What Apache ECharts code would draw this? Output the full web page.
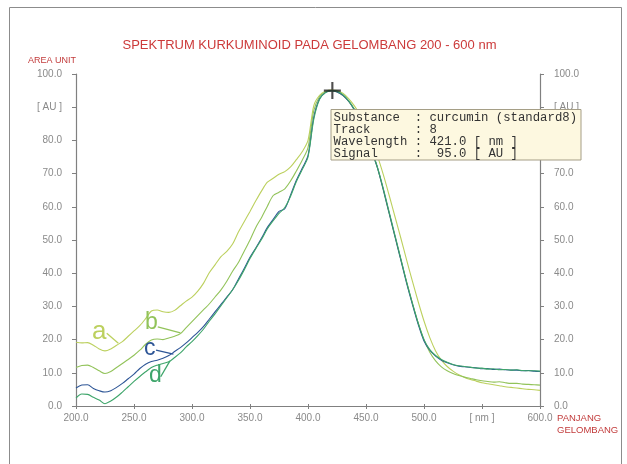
<!DOCTYPE html>
<html>
<head>
<meta charset="utf-8">
<script src="https://cdn.jsdelivr.net/npm/echarts@6/dist/echarts.min.js"></script>
<style>html,body{margin:0;padding:0;background:#fff;}#c{width:627px;height:464px;}</style>
</head>
<body>
<div id="c"></div>
<script>
// Wavelength grid (nm)
var wavelengths = [200,205,210,215,220,225,230,235,240,245,250,255,260,265,270,275,280,285,290,295,300,305,310,315,320,325,330,335,340,345,350,355,360,365,370,375,380,385,390,395,400,405,410,415,420,425,430,435,440,445,450,455,460,465,470,475,480,485,490,495,500,505,510,515,520,525,530,535,540,545,550,555,560,565,570,575,580,585,590,595,600];

var seriesA = [19.2,19.0,19.1,18.3,17.2,16.6,17.2,18.3,19.4,21.0,22.6,24.2,26.3,28.6,28.9,28.4,28.2,28.8,30.2,31.6,32.8,34.6,37.0,40.2,42.6,45.0,46.6,48.8,52.4,55.5,58.6,61.8,64.8,67.4,68.6,69.8,70.6,72.0,74.2,76.6,80.0,90.5,93.6,94.8,95.2,95.0,94.2,92.6,90.4,87.6,84.2,80.0,75.2,69.6,63.4,57.0,50.6,44.0,37.6,31.4,25.6,20.6,16.6,13.8,11.9,10.5,9.4,8.6,8.0,7.5,7.0,6.7,6.4,6.1,5.8,5.6,5.4,5.2,5.0,4.9,4.7];

var seriesB = [11.6,12.2,12.3,11.6,10.6,9.8,10.4,11.6,12.8,14.0,15.3,16.8,18.6,19.9,20.2,20.0,20.5,21.0,21.8,23.6,25.4,27.2,29.0,30.8,32.9,35.0,37.6,40.6,43.2,46.6,50.0,53.8,56.8,60.2,63.4,64.4,65.4,67.8,70.8,74.0,77.8,89.0,93.2,94.6,95.0,94.6,93.6,91.8,89.2,85.8,81.6,76.8,71.6,65.0,58.0,51.0,44.2,37.4,31.0,25.0,20.0,16.2,13.6,11.8,10.6,9.8,9.2,8.7,8.3,7.9,7.6,7.4,7.2,7.3,7.0,6.8,6.8,6.6,6.5,6.4,6.3];

var seriesC = [5.4,6.3,6.4,5.3,4.6,4.2,4.6,5.6,6.8,8.2,9.6,11.3,12.6,13.4,13.8,14.4,15.2,16.4,17.6,19.0,20.6,22.2,24.0,26.2,28.4,30.6,32.8,35.0,38.2,41.4,44.8,47.6,50.6,53.8,56.2,58.6,59.4,63.6,68.0,71.6,75.4,87.0,92.6,94.4,95.0,94.6,93.6,91.8,89.2,85.8,81.4,76.6,71.6,65.0,58.0,51.0,44.0,37.0,30.6,24.6,19.6,16.8,15.0,13.8,13.0,12.4,12.0,11.8,11.6,11.5,11.2,11.3,11.0,11.1,10.9,10.8,10.8,10.6,10.7,10.5,10.4];

var seriesD = [2.4,3.6,3.5,2.6,1.8,0.7,1.5,2.7,4.2,5.8,7.4,8.9,10.3,11.6,12.3,12.8,13.3,14.6,16.0,17.8,19.4,21.2,23.2,25.6,27.8,30.2,32.6,35.0,37.8,41.0,44.4,47.4,50.2,53.4,55.8,58.0,59.8,63.2,67.6,71.2,75.0,86.4,92.4,94.4,95.0,94.8,93.8,92.0,89.4,86.0,81.8,77.0,71.8,65.4,58.4,51.4,44.4,37.4,31.0,25.0,20.0,17.0,15.2,14.0,13.2,12.5,12.1,11.9,11.7,11.4,11.4,11.1,11.2,10.9,11.0,10.8,10.9,10.7,10.6,10.6,10.5];

// Curve labels (letter, label position, leader start, leader end) in data units
var curveNames = ['a','b','c','d'];
var labelPos = [[220,22.2],[265,25.0],[263.5,17.4],[268.5,9.0]];
var leaderStart = [[226.5,21.9],[270.5,23.8],[269,16.8],[273,8.8]];
var leaderEnd = [[236.5,18.9],[290,22.0],[284,15.6],[281,13.6]];
var labelSizes = [26,23,23,23];

// Marked peak
var peakPoint = [421, 95];

var colors = ['#bcd05e','#92c35a','#2d5596','#3ea56a'];
var allSeries = [seriesA, seriesB, seriesC, seriesD];

function zip(xs, ys){ return xs.map(function(x,i){ return [x, ys[i]]; }); }

var chart = echarts.init(document.getElementById('c'), null, {renderer:'canvas'});
var font = '"Liberation Sans", Arial, sans-serif';

var series = allSeries.map(function(s, i){
  return {
    type:'line', data: zip(wavelengths, s), showSymbol:false, smooth:0.3,
    lineStyle:{color:colors[i], width:1.1}, itemStyle:{color:colors[i]},
    z: 3 + i, silent:true,
    markPoint:{
      symbol:'circle', symbolSize:0, silent:true,
      data:[{coord:labelPos[i], value:curveNames[i]}],
      label:{show:true, position:'inside', formatter:curveNames[i], color:colors[i], fontSize:labelSizes[i], fontFamily:font}
    },
    markLine:{
      symbol:['none','none'], silent:true,
      lineStyle:{color:colors[i], width:1.3, type:'solid'},
      label:{show:false},
      data:[[{coord:leaderStart[i]},{coord:leaderEnd[i]}]]
    }
  };
});
series.push({
  type:'scatter', data:[peakPoint], z:20, silent:true,
  symbol:'path://M0,7L16,7L16,9L0,9Z M7,0L9,0L9,16L7,16Z', symbolSize:17,
  itemStyle:{color:'#222'}
});

var axisCol = '#808080';
var labelCol = '#8a8a8a';

function yFmt(v){ return v === 90 ? '[ AU ]' : v.toFixed(1); }
function xFmt(v){ return v === 550 ? '[ nm ]' : v.toFixed(1); }

chart.setOption({
  animation:false,
  backgroundColor:'#ffffff',
  grid:{left:76, right:87, top:74, bottom:58},
  xAxis:[{
    type:'value', min:200, max:600, interval:50, position:'bottom',
    axisLine:{show:true, lineStyle:{color:axisCol, width:1.2}},
    axisTick:{show:true, length:3, lineStyle:{color:axisCol}},
    axisLabel:{formatter:xFmt, color:labelCol, fontSize:10, fontFamily:font, margin:7},
    splitLine:{show:false}
  },{
    type:'value', min:200, max:600, interval:50, position:'top',
    axisLine:{show:true, lineStyle:{color:axisCol, width:1.2}},
    axisTick:{show:true, length:2, lineStyle:{color:axisCol}},
    axisLabel:{show:false}, splitLine:{show:false}
  }],
  yAxis:[{
    type:'value', min:0, max:100, interval:10, position:'left',
    axisLine:{show:true, lineStyle:{color:axisCol, width:1.2}},
    axisTick:{show:true, length:4, lineStyle:{color:axisCol}},
    axisLabel:{formatter:yFmt, color:labelCol, fontSize:10, fontFamily:font, margin:14},
    splitLine:{show:false}
  },{
    type:'value', min:0, max:100, interval:10, position:'right',
    axisLine:{show:true, lineStyle:{color:axisCol, width:1.2}},
    axisTick:{show:true, length:4, lineStyle:{color:axisCol}},
    axisLabel:{formatter:yFmt, color:labelCol, fontSize:10, fontFamily:font, margin:14},
    splitLine:{show:false}
  }],
  series: series,
  graphic:[
    {type:'polyline', silent:true, shape:{points:[[9.5,470],[9.5,7.5],[621.5,7.5],[621.5,470]]}, style:{stroke:'#8c8c8c', lineWidth:1, fill:null}, z:1},
    {type:'text', silent:true, style:{text:'SPEKTRUM KURKUMINOID PADA GELOMBANG 200 - 600 nm', x:309.5, y:45, align:'center', verticalAlign:'middle', fill:'#cc3a3a', font:'13px "Liberation Sans", Arial, sans-serif'}},
    {type:'text', silent:true, style:{text:'AREA UNIT', x:28, y:61, verticalAlign:'middle', fill:'#c23b3b', font:'9px "Liberation Sans", Arial, sans-serif'}},
    {type:'text', silent:true, style:{text:'PANJANG\nGELOMBANG', x:557, y:413, lineHeight:11.5, fill:'#c23b3b', font:'9.5px "Liberation Sans", Arial, sans-serif'}},
    {type:'rect', silent:true, z:50, shape:{x:331, y:109.5, width:250, height:50.5}, style:{fill:'#fdf8e0', stroke:'#a59e86', lineWidth:1}},
    {type:'text', silent:true, z:51, style:{
      text:'Substance  : curcumin (standard8)\nTrack      : 8\nWavelength : 421.0 [ nm ]\nSignal     :  95.0 [ AU ]',
      x:333.5, y:112, lineHeight:11.9, fill:'#333', font:'12.3px "Liberation Mono", "DejaVu Sans Mono", monospace'}}
  ]
});
</script>
</body>
</html>
